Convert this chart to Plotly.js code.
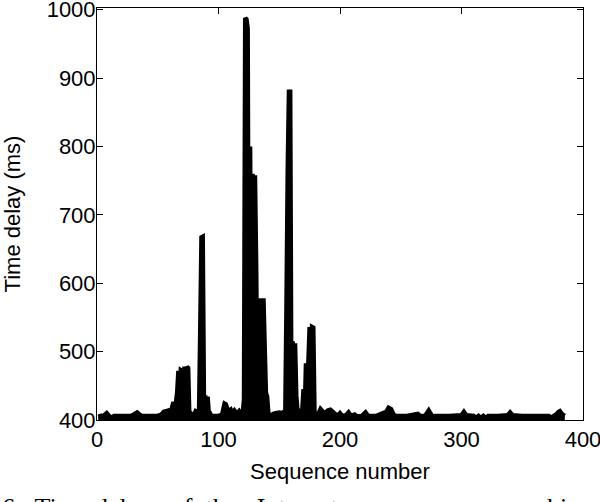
<!DOCTYPE html>
<html>
<head>
<meta charset="utf-8">
<script src="https://cdn.plot.ly/plotly-3.0.1.min.js"></script>
<style>html,body{margin:0;padding:0;background:#fff;}#chart{width:600px;height:502px;}</style>
</head>
<body>
<div id="chart"></div>
<script>
// Sequence number (x) and time delay in ms (y)
var seqNum = [1,3,4,6,8,10,12,14,20,28,31,33,35,37,50,53,55,57,59,61,62,63,64,65,66,67,68,69,70,71,72,73,74,75,76,77,78,79,80,81,82,83,84,85,86,87,88,89,90,91,92,93,94,95,96,100,103,105,106,107,108,110,111,113,115,117,119,120,121,122,123,124,125,126,127,128,129,130,131,132,133,134,135,136,137,138,139,140,141,142,143,145,147,150,152,154,155,156,157,158,159,160,161,162,163,164,165,166,168,169,170,171,172,173,174,175,176,177,178,179,180,182,184,186,188,190,192,194,196,198,200,202,205,207,209,212,214,218,221,223,230,238,240,242,244,246,255,264,266,270,273,275,276,278,290,300,302,304,310,312,314,316,318,320,322,330,338,340,342,350,365,372,374,376,378,380,381,383,385];
var delayMs = [405,406,403,407,410,406,403,406,406,406,409,411,408,406,406,408,412,413,414,412,420,426,410,426,440,472,410,473,472,420,478,412,478,476,405,404,407,404,408,412,410,415,412,535,667,668,430,436,415,434,410,410,406,404,406,406,408,424,423,418,412,415,410,414,409,413,408,410,430,988,986,972,410,800,410,760,420,758,625,430,564,410,578,430,578,507,440,434,410,408,404,409,410,411,410,412,412,575,768,880,880,412,515,418,512,436,412,414,412,415,445,410,483,420,485,536,420,536,535,410,406,408,416,412,410,414,415,412,409,406,410,406,407,411,406,408,405,406,411,406,406,412,418,416,408,406,406,409,406,406,414,408,404,406,406,407,412,407,406,403,406,403,406,403,406,406,407,411,407,406,406,406,403,406,408,412,413,408,406];
var xTicks = [0,100,200,300,400];
var yTicks = [400,500,600,700,800,900,1000];
var xLabel = "Sequence number";
var yLabel = "Time delay (ms)";
var captionText = "6.\u00a0\u00a0Time\u00a0delay\u00a0\u00a0\u00a0of\u00a0\u00a0the\u00a0\u00a0\u00a0Internet";
var captionTail = "achi";

var trace = {
  x: seqNum, y: delayMs, type: 'scatter', mode: 'lines',
  line: {color: '#000', width: 4.5, simplify: false},
  fill: 'tozeroy', fillcolor: '#000',
  hoverinfo: 'skip'
};

var axisFont = {family: 'Liberation Sans, Arial, sans-serif', size: 22, color: '#000'};
var capFont = {family: 'Liberation Serif, Times New Roman, serif', size: 26, color: '#000'};

var layout = {
  width: 600, height: 502,
  margin: {l: 97, r: 17, t: 8, b: 82, pad: 0},
  paper_bgcolor: '#fff', plot_bgcolor: '#fff',
  showlegend: false,
  xaxis: {
    range: [0, 400], tickvals: xTicks, ticktext: xTicks.map(String),
    ticks: 'inside', ticklen: 6, tickwidth: 1, tickcolor: '#000',
    showline: true, linecolor: '#000', linewidth: 1, mirror: 'ticks',
    showgrid: false, zeroline: false, tickfont: axisFont,
    ticklabeloverflow: 'allow',
    title: {text: xLabel, font: axisFont, standoff: 12},
    automargin: false
  },
  yaxis: {
    range: [400, 1002.5], tickvals: yTicks, ticktext: yTicks.map(String),
    ticks: 'inside', ticklen: 6, tickwidth: 1, tickcolor: '#000',
    showline: true, linecolor: '#000', linewidth: 1, mirror: 'ticks',
    showgrid: false, zeroline: false, tickfont: axisFont,
    ticklabeloverflow: 'allow', ticklabelstandoff: -4,
    title: {text: yLabel, font: axisFont, standoff: 30},
    automargin: false
  },
  annotations: [{
    text: captionText, xref: 'paper', yref: 'paper',
    x: -0.2, y: -0.1715, xanchor: 'left', yanchor: 'top', showarrow: false,
    font: capFont
  }, {
    text: captionTail, xref: 'paper', yref: 'paper',
    x: (522 - 97) / 486, y: -0.1715, xanchor: 'left', yanchor: 'top', showarrow: false,
    font: capFont
  }]
};

Plotly.newPlot('chart', [trace], layout, {staticPlot: true, displayModeBar: false});
</script>
</body>
</html>
